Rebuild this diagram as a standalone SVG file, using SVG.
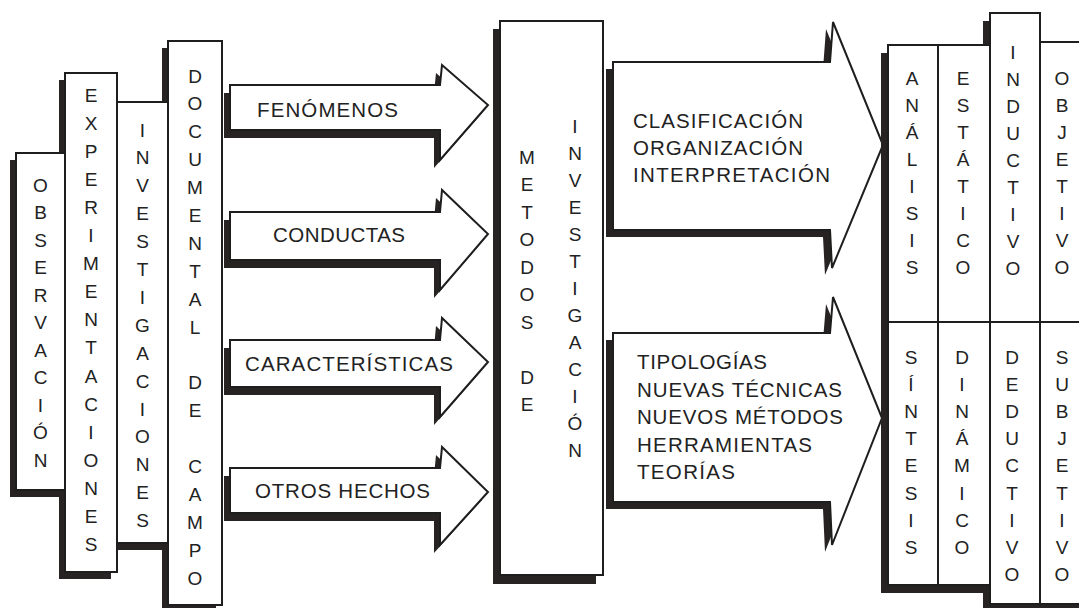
<svg xmlns="http://www.w3.org/2000/svg" width="1079" height="608" viewBox="0 0 1079 608">
<style>
.box{fill:#fff;stroke:#1e1e1e;stroke-width:2}
.sh{fill:#272323}
.ln{fill:none;stroke:#1e1e1e;stroke-width:2}
.t{font-family:"Liberation Sans",Arial,sans-serif;font-size:20.5px;fill:#222}
.v{text-anchor:middle;font-size:19px}
</style>
<rect width="1079" height="608" fill="#fff"/>

<g id="documental">
<rect class="sh" x="162" y="48" width="54" height="564"/>
<rect class="box" x="168" y="41" width="54" height="564"/>
<text class="t v" x="195 195 195 195 195 195 195 195 195 195 195 195 195 195 195 195 195 195 195" y="82.5 110.4 138.3 166.2 194.1 222 249.9 277.8 305.7 333.6 361.5 389.4 417.3 445.2 473.1 501 528.9 556.8 584.7">DOCUMENTAL DE CAMPO</text>
</g>
<g id="investigaciones">
<rect class="sh" x="111" y="109" width="57" height="441"/>
<rect class="box" x="117" y="102" width="51" height="441"/>
<text class="t v" x="142.5 142.5 142.5 142.5 142.5 142.5 142.5 142.5 142.5 142.5 142.5 142.5 142.5 142.5 142.5" y="136.5 164.4 192.3 220.2 248.1 276 303.9 331.8 359.7 387.6 415.5 443.4 471.3 499.2 527.1">INVESTIGACIONES</text>
</g>
<g id="experimentaciones">
<rect class="sh" x="59" y="80" width="52" height="499"/>
<rect class="box" x="65" y="73" width="52" height="499"/>
<text class="t v" x="91 91 91 91 91 91 91 91 91 91 91 91 91 91 91 91 91" y="101.5 129.6 157.7 185.8 213.9 242 270.1 298.2 326.3 354.4 382.5 410.6 438.7 466.8 494.9 523 551.1">EXPERIMENTACIONES</text>
</g>
<g id="observacion">
<rect class="sh" x="10" y="160" width="49" height="337"/>
<rect class="box" x="16" y="153" width="49" height="337"/>
<text class="t v" x="40.5 40.5 40.5 40.5 40.5 40.5 40.5 40.5 40.5 40.5 40.5" y="191.5 219 246.5 274 301.5 329 356.5 384 411.5 439 466.5">OBSERVACIÓN</text>
</g>

<g id="connectors">
<g transform="translate(-6,8)" class="sh">
<polygon points="230,85 440,85 442,65 488,105 440,160 440,130 230,130"/>
<polygon points="230,212 440,212 442,190 488,234 440,290 440,260 230,260"/>
<polygon points="230,340 440,340 442,318 488,362 440,417 440,387 230,387"/>
<polygon points="230,468 440,468 442,447 488,492 440,545 440,513 230,513"/>
</g>
<polygon class="box" points="230,85 440,85 442,65 488,105 440,160 440,130 230,130"/>
<polygon class="box" points="230,212 440,212 442,190 488,234 440,290 440,260 230,260"/>
<polygon class="box" points="230,340 440,340 442,318 488,362 440,417 440,387 230,387"/>
<polygon class="box" points="230,468 440,468 442,447 488,492 440,545 440,513 230,513"/>
<text class="t" x="257" y="117" textLength="141" lengthAdjust="spacing">FENÓMENOS</text>
<text class="t" x="273" y="242" textLength="132" lengthAdjust="spacing">CONDUCTAS</text>
<text class="t" x="245" y="371" textLength="208" lengthAdjust="spacing">CARACTERÍSTICAS</text>
<text class="t" x="255" y="498" textLength="175" lengthAdjust="spacing">OTROS HECHOS</text>

<g transform="translate(-7,7)" class="sh">
<polygon points="613,62 830,62 833,22 883,145 832,268 830,230 613,230"/>
<polygon points="613,333 830,333 833,297 882,418 832,545 830,502 613,502"/>
</g>
<polygon class="box" points="613,62 830,62 833,22 883,145 832,268 830,230 613,230"/>
<polygon class="box" points="613,333 830,333 833,297 882,418 832,545 830,502 613,502"/>
<text class="t" x="633" y="128" textLength="170" lengthAdjust="spacing">CLASIFICACIÓN</text>
<text class="t" x="633" y="155" textLength="170" lengthAdjust="spacing">ORGANIZACIÓN</text>
<text class="t" x="633" y="182" textLength="197" lengthAdjust="spacing">INTERPRETACIÓN</text>
<text class="t" x="637" y="369" textLength="130" lengthAdjust="spacing">TIPOLOGÍAS</text>
<text class="t" x="637" y="397" textLength="205" lengthAdjust="spacing">NUEVAS TÉCNICAS</text>
<text class="t" x="637" y="424" textLength="206" lengthAdjust="spacing">NUEVOS MÉTODOS</text>
<text class="t" x="637" y="452" textLength="175" lengthAdjust="spacing">HERRAMIENTAS</text>
<text class="t" x="637" y="479" textLength="98" lengthAdjust="spacing">TEORÍAS</text>
</g>

<g id="metodos">
<rect class="sh" x="493" y="29" width="103" height="555"/>
<rect class="box" x="500" y="21" width="103" height="554"/>
<text class="t v" x="527 527 527 527 527 527 527 527 527 527" y="163.5 191 218.5 246 273.5 301 328.5 356 383.5 411">METODOS DE</text>
<text class="t v" x="575 575 575 575 575 575 575 575 575 575 575 575 575" y="132.5 159.5 186.5 213.5 240.5 267.5 294.5 321.5 348.5 375.5 402.5 429.5 456.5">INVESTIGACIÓN</text>
</g>

<g id="resultados">
<polygon class="sh" points="881,53 983,53 983,21 1033,21 1033,50 1079,50 1079,612 983,612 983,593 881,593"/>
<rect class="box" x="990" y="13" width="50" height="591"/>
<rect class="box" x="1040" y="42" width="45" height="562"/>
<rect class="box" x="888" y="45" width="50" height="540"/>
<rect class="box" x="938" y="45" width="52" height="540"/>
<line class="ln" x1="888" y1="322" x2="1079" y2="322"/>
<text class="t v" x="912 912 912 912 912 912 912 912" y="84.5 111.5 138.5 165.5 192.5 219.5 246.5 273.5">ANÁLISIS</text>
<text class="t v" x="963 963 963 963 963 963 963 963" y="84.5 111.5 138.5 165.5 192.5 219.5 246.5 273.5">ESTÁTICO</text>
<text class="t v" x="1013 1013 1013 1013 1013 1013 1013 1013 1013" y="58.5 85.5 112.5 139.5 166.5 193.5 220.5 247.5 274.5">INDUCTIVO</text>
<text class="t v" x="1062 1062 1062 1062 1062 1062 1062 1062" y="84.5 111.5 138.5 165.5 192.5 219.5 246.5 273.5">OBJETIVO</text>
<text class="t v" x="911 911 911 911 911 911 911 911" y="363.5 390.7 417.9 445.1 472.3 499.5 526.7 553.9">SÍNTESIS</text>
<text class="t v" x="962 962 962 962 962 962 962 962" y="363.5 390.7 417.9 445.1 472.3 499.5 526.7 553.9">DINÁMICO</text>
<text class="t v" x="1012 1012 1012 1012 1012 1012 1012 1012 1012" y="363.5 390.7 417.9 445.1 472.3 499.5 526.7 553.9 581.1">DEDUCTIVO</text>
<text class="t v" x="1062 1062 1062 1062 1062 1062 1062 1062 1062" y="363.5 390.7 417.9 445.1 472.3 499.5 526.7 553.9 581.1">SUBJETIVO</text>
</g>
</svg>
